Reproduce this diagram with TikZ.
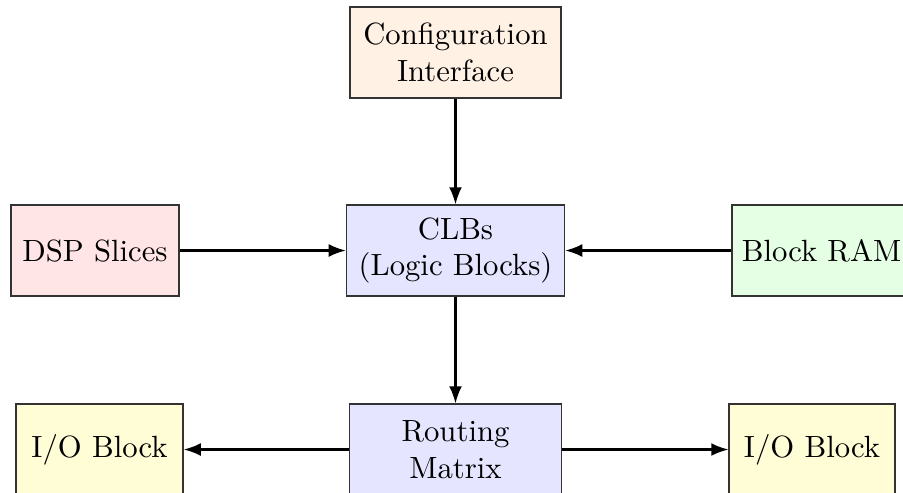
\documentclass[tikz,border=0pt]{standalone}
\usetikzlibrary{arrows.meta}
\begin{document}
\begin{tikzpicture}[x=0.3257pt, y=-0.3257pt,
  block/.style={draw=black!80, line width=0.4pt, align=center, inner sep=3pt,
    minimum height=29.6pt},
  link/.style={-{Latex[length=5.6pt,width=4.2pt]}, line width=0.7pt}]
  \useasboundingbox (0,0) rectangle (903,492);

  \node[block, fill=orange!10, minimum width=68.7pt] (cfg) at (455.5,52.5) {Configuration\\Interface};
  \node[block, fill=blue!10, minimum width=71pt] (clb) at (455.5,250.5) {CLBs\\(Logic Blocks)};
  \node[block, fill=red!10, minimum width=54.7pt] (dsp) at (95,250.5) {DSP Slices};
  \node[block, fill=green!10, minimum width=58.3pt] (bram) at (821.5,250.5) {Block RAM};
  \node[block, fill=blue!10, minimum width=69pt] (rt) at (455.5,449.5) {Routing\\Matrix};
  \node[block, fill=yellow!16, minimum width=54.4pt] (iol) at (99.5,449.5) {I/O Block};
  \node[block, fill=yellow!16, minimum width=54pt] (ior) at (812,449.5) {I/O Block};

  \draw[link] (cfg) -- (clb);
  \draw[link] (dsp) -- (clb);
  \draw[link] (bram) -- (clb);
  \draw[link] (clb) -- (rt);
  \draw[link] (rt) -- (iol);
  \draw[link] (rt) -- (ior);
\end{tikzpicture}
\end{document}
